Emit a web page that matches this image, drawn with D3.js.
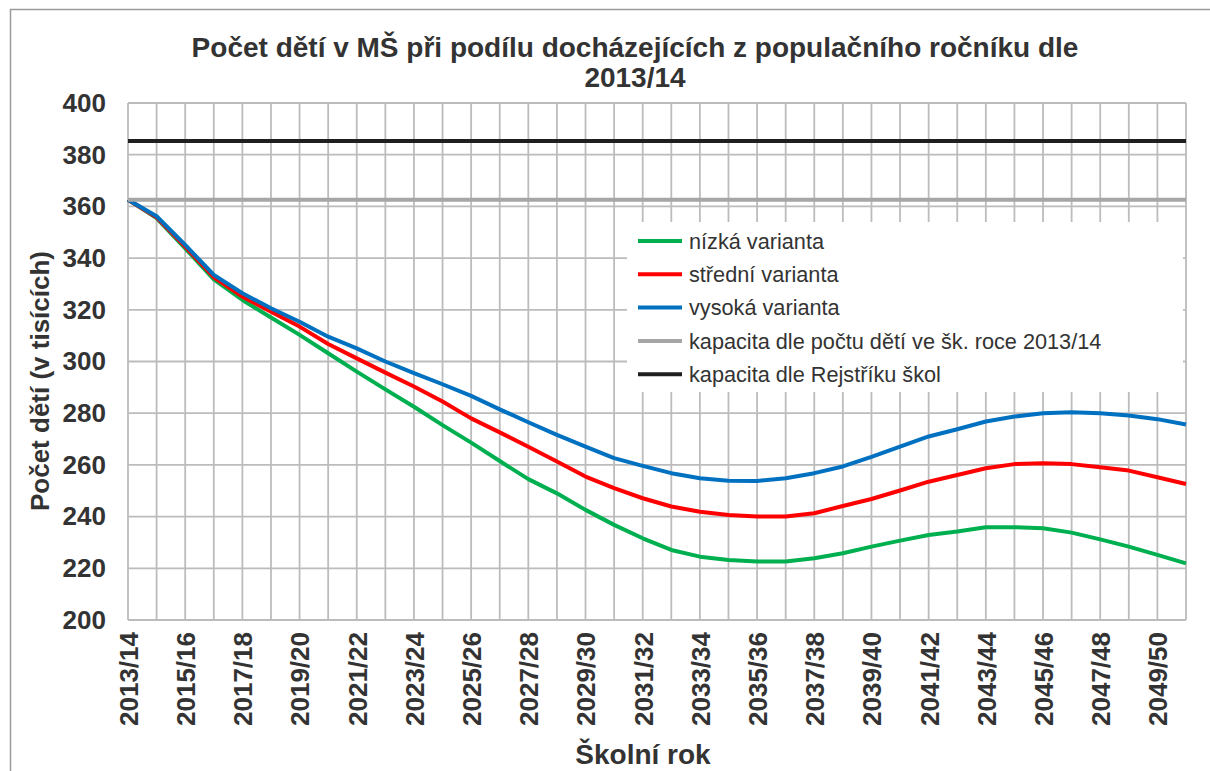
<!DOCTYPE html>
<html>
<head>
<meta charset="utf-8">
<script src="https://cdn.jsdelivr.net/npm/d3@7"></script>
<style>
  body { margin: 0; background: #fff; }
  svg { display: block; font-family: "Liberation Sans", Arial, sans-serif; }
</style>
</head>
<body>
<div id="chart"></div>
<script>
// school years (categories)
const years = ['2013/14', '2014/15', '2015/16', '2016/17', '2017/18', '2018/19', '2019/20', '2020/21',
    '2021/22', '2022/23', '2023/24', '2024/25', '2025/26', '2026/27', '2027/28', '2028/29',
    '2029/30', '2030/31', '2031/32', '2032/33', '2033/34', '2034/35', '2035/36', '2036/37',
    '2037/38', '2038/39', '2039/40', '2040/41', '2041/42', '2042/43', '2043/44', '2044/45',
    '2045/46', '2046/47', '2047/48', '2048/49', '2049/50', '2050/51'];

// pocet deti v tisicich
const nizka = [362.6, 355.5, 343.8, 331.8, 323.8, 317.0, 310.3, 303.2, 296.1, 289.2, 282.5, 275.4,
    268.6, 261.5, 254.5, 249.0, 242.6, 236.8, 231.6, 227.1, 224.5, 223.2, 222.6, 222.6,
    223.9, 225.8, 228.4, 230.7, 232.9, 234.2, 235.9, 235.9, 235.5, 233.8, 231.2, 228.4, 225.2, 221.9];
const stredni = [362.6, 355.8, 344.4, 332.6, 325.1, 319.3, 313.5, 306.8, 301.2, 295.7, 290.3, 284.5,
    278.0, 272.6, 267.0, 261.3, 255.5, 251.0, 247.1, 243.9, 241.9, 240.6, 240.0, 240.0,
    241.3, 244.1, 246.8, 250.1, 253.5, 256.1, 258.7, 260.3, 260.6, 260.3, 259.1, 257.8, 255.2, 252.6];
const vysoka = [362.6, 356.2, 345.1, 333.5, 326.4, 320.6, 315.4, 309.6, 305.1, 300.0, 295.5, 291.2,
    286.7, 281.5, 276.5, 271.6, 267.1, 262.6, 259.6, 256.8, 254.8, 253.9, 253.8, 254.8,
    256.8, 259.4, 263.1, 267.1, 271.0, 273.8, 276.8, 278.7, 280.0, 280.4, 280.0, 279.1, 277.7, 275.6];
const kapacitaPocet = 362.6;
const kapacitaRejstrik = 385.3;

const yTicks = [200, 220, 240, 260, 280, 300, 320, 340, 360, 380, 400];

const series = [
    { name: 'nízká varianta', values: nizka, color: '#00b050' },
    { name: 'střední varianta', values: stredni, color: '#ff0000' },
    { name: 'vysoká varianta', values: vysoka, color: '#0070c0' },
    { name: 'kapacita dle počtu dětí ve šk. roce 2013/14', values: years.map(() => kapacitaPocet), color: '#a6a6a6' },
    { name: 'kapacita dle Rejstříku škol', values: years.map(() => kapacitaRejstrik), color: '#1f1f1f' }
];

const width = 1210,
    height = 771;
const plot = { left: 128, right: 1186, top: 103, bottom: 620 };
const textColor = '#333',
    gridColor = '#bcbcbc';

const svg = d3.select('#chart').append('svg')
    .attr('width', width)
    .attr('height', height);

// outer frame
svg.append('rect')
    .attr('x', 10.5).attr('y', 9.5)
    .attr('width', 1240).attr('height', 800)
    .attr('fill', '#fff')
    .attr('stroke', '#9a9a9a')
    .attr('stroke-width', 1.5);

const x = d3.scalePoint()
    .domain(years)
    .range([plot.left, plot.right]);

const y = d3.scaleLinear()
    .domain([200, 400])
    .range([plot.bottom, plot.top]);

// gridlines
const grid = svg.append('g').attr('class', 'grid');
grid.selectAll('.hgrid')
    .data(yTicks)
    .enter()
    .append('line')
    .attr('x1', plot.left).attr('x2', plot.right)
    .attr('y1', d => y(d)).attr('y2', d => y(d))
    .attr('stroke', gridColor)
    .attr('stroke-width', 1.8);
grid.selectAll('.vgrid')
    .data(years)
    .enter()
    .append('line')
    .attr('x1', d => x(d)).attr('x2', d => x(d))
    .attr('y1', plot.top).attr('y2', plot.bottom)
    .attr('stroke', gridColor)
    .attr('stroke-width', 1.8);

// y axis labels
const yAxis = svg.append('g')
    .attr('transform', 'translate(' + plot.left + ',0)')
    .call(d3.axisLeft(y).tickValues(yTicks).tickSize(0).tickPadding(22));
yAxis.select('.domain').remove();
yAxis.selectAll('text')
    .attr('fill', textColor)
    .attr('font-size', 26)
    .attr('font-weight', 'bold')
    .attr('font-family', '"Liberation Sans", Arial, sans-serif');

// x axis labels, every other year
const xAxis = svg.append('g')
    .attr('transform', 'translate(0,' + plot.bottom + ')')
    .call(d3.axisBottom(x).tickValues(years.filter((d, i) => i % 2 == 0)).tickSize(0));
xAxis.select('.domain').remove();
xAxis.selectAll('text')
    .attr('fill', textColor)
    .attr('font-size', 26)
    .attr('font-weight', 'bold')
    .attr('font-family', '"Liberation Sans", Arial, sans-serif')
    .attr('text-anchor', 'end')
    .attr('transform', 'rotate(-90)')
    .attr('x', -12)
    .attr('y', 0)
    .attr('dy', '0.36em');

// series lines
const line = d3.line()
    .x((d, i) => x(years[i]))
    .y(d => y(d));

svg.append('g').attr('class', 'lines')
    .selectAll('path')
    .data(series)
    .enter()
    .append('path')
    .attr('d', d => line(d.values))
    .attr('fill', 'none')
    .attr('stroke', d => d.color)
    .attr('stroke-width', 4)
    .attr('stroke-linejoin', 'round');

// legend
const legend = svg.append('g').attr('class', 'legend');
legend.append('rect')
    .attr('x', 627).attr('y', 222)
    .attr('width', 556).attr('height', 170)
    .attr('fill', '#fff');
const items = legend.selectAll('.item')
    .data(series)
    .enter()
    .append('g')
    .attr('transform', (d, i) => 'translate(638,' + (241 + i * 33.3) + ')');
items.append('line')
    .attr('x1', 0).attr('x2', 44)
    .attr('stroke', d => d.color)
    .attr('stroke-width', 4);
items.append('text')
    .attr('x', 51)
    .attr('dy', '0.36em')
    .attr('font-size', 21.7)
    .attr('fill', textColor)
    .text(d => d.name);

// titles
const title = svg.append('text')
    .attr('text-anchor', 'middle')
    .attr('font-size', 28)
    .attr('font-weight', 'bold')
    .attr('fill', textColor);
title.append('tspan').attr('x', 635).attr('y', 57).text('Počet dětí v MŠ při podílu docházejících z populačního ročníku dle');
title.append('tspan').attr('x', 635).attr('y', 87).text('2013/14');

svg.append('text')
    .attr('transform', 'translate(49,381) rotate(-90)')
    .attr('text-anchor', 'middle')
    .attr('font-size', 26)
    .attr('font-weight', 'bold')
    .attr('fill', textColor)
    .text('Počet dětí (v tisících)');

svg.append('text')
    .attr('x', 643).attr('y', 764)
    .attr('text-anchor', 'middle')
    .attr('font-size', 28)
    .attr('font-weight', 'bold')
    .attr('fill', textColor)
    .text('Školní rok');
</script>
</body>
</html>
